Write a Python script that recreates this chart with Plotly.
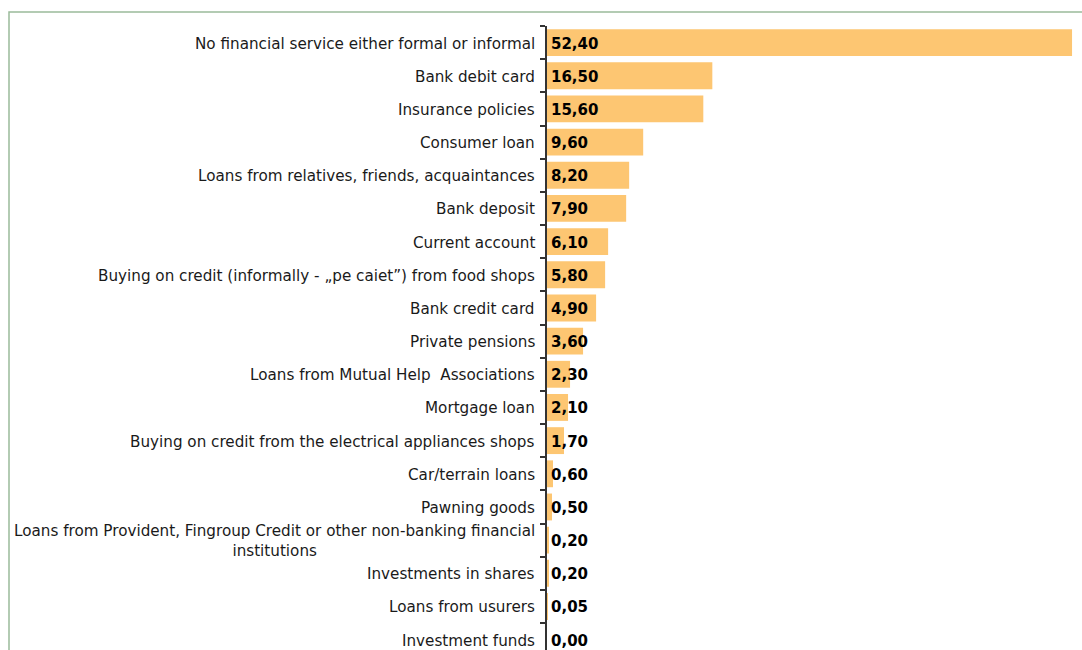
import plotly.graph_objects as go

categories = [
    "No financial service either formal or informal",
    "Bank debit card",
    "Insurance policies",
    "Consumer loan",
    "Loans from relatives, friends, acquaintances",
    "Bank deposit",
    "Current account",
    "Buying on credit (informally - „pe caiet”) from food shops",
    "Bank credit card",
    "Private pensions",
    "Loans from Mutual Help  Associations",
    "Mortgage loan",
    "Buying on credit from the electrical appliances shops",
    "Car/terrain loans",
    "Pawning goods",
    "Loans from Provident, Fingroup Credit or other non-banking financial<br>institutions",
    "Investments in shares",
    "Loans from usurers",
    "Investment funds",
]
values = [52.40, 16.50, 15.60, 9.60, 8.20, 7.90, 6.10, 5.80, 4.90, 3.60,
          2.30, 2.10, 1.70, 0.60, 0.50, 0.20, 0.20, 0.05, 0.00]

W, H = 1082, 650
L, T = 547, 26
plot_w, plot_h = W - L, H - T
px_per_unit = 10.02
px_per_cat = 33.17

BAR = "#FDC672"
FRAME = "#9BBB9B"
TXT = "#1a1a1a"
FONT = "DejaVu Sans"

fig = go.Figure(go.Bar(
    x=values, y=categories, orientation="h",
    marker=dict(color=BAR, line=dict(width=0)),
    width=0.81, hoverinfo="skip",
))

annotations = []
for cat, v in zip(categories, values):
    # value label at the base of each bar
    annotations.append(dict(
        x=0, y=cat, xref="x", yref="y", xanchor="left", yanchor="middle",
        xshift=2, yshift=-1, showarrow=False,
        text="<b>" + f"{v:.2f}".replace(".", ",") + "</b>",
        font=dict(family=FONT, size=15, color="#000000"),
    ))
    # category label, centred lines for wrapped names
    annotations.append(dict(
        x=0, y=cat, xref="paper", yref="y", xanchor="right", yanchor="middle",
        xshift=-10, yshift=-1, showarrow=False, align="center", text=cat,
        font=dict(family=FONT, size=15.2, color=TXT),
    ))

fig.update_layout(
    width=W, height=H,
    margin=dict(l=L, r=0, t=T, b=0, pad=0),
    paper_bgcolor="white", plot_bgcolor="white",
    showlegend=False,
    bargap=0.19,
    xaxis=dict(range=[0, plot_w / px_per_unit], visible=False, fixedrange=True),
    yaxis=dict(
        type="category",
        categoryorder="array", categoryarray=categories,
        range=[-0.5 + plot_h / px_per_cat, -0.5],
        showticklabels=False, showgrid=False, zeroline=False,
        showline=True, linecolor="#333333", linewidth=1.5,
        ticks="outside", ticklen=5, tickcolor="#333333", tickwidth=1.5,
        tickson="boundaries", fixedrange=True,
    ),
    annotations=annotations,
    shapes=[dict(
        type="rect", xref="paper", yref="paper",
        x0=(9 - L) / plot_w, x1=(W + 20 - L) / plot_w,
        y0=-0.1, y1=1 + (T - 12) / plot_h,
        line=dict(color=FRAME, width=1.5), fillcolor="rgba(0,0,0,0)",
        layer="below",
    )],
)

fig.write_html("out.html")
